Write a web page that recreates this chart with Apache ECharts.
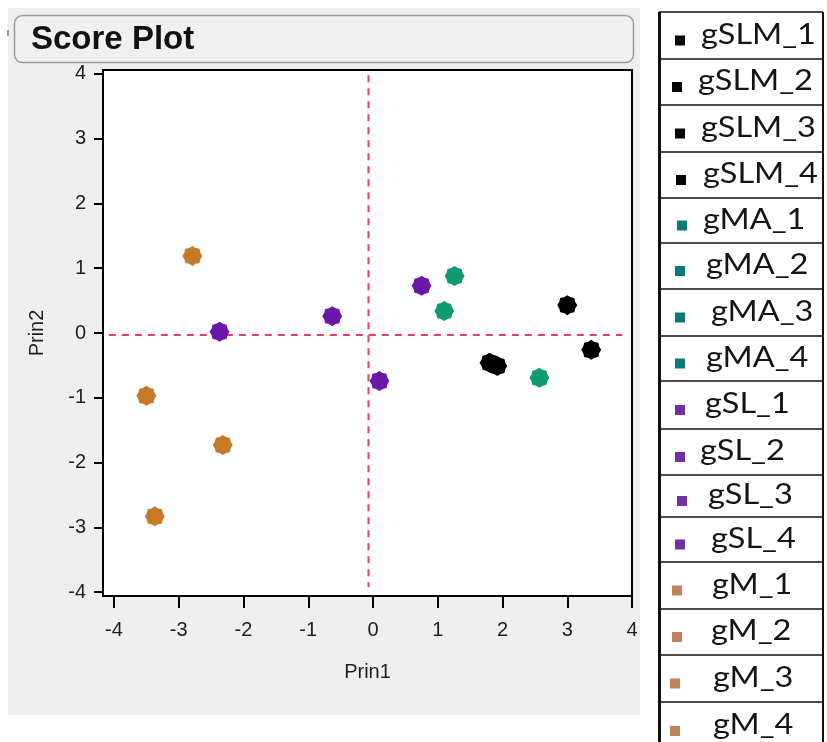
<!DOCTYPE html>
<html><head><meta charset="utf-8">
<style>html,body{margin:0;padding:0;background:#fff}#c{width:827px;height:742px}</style>
<script src="https://cdn.jsdelivr.net/npm/echarts@6/dist/echarts.min.js"></script>
</head><body><div id="c"></div><script>
// ---- data ----
const sampleNames = ['gSLM_1','gSLM_2','gSLM_3','gSLM_4','gMA_1','gMA_2','gMA_3','gMA_4','gSL_1','gSL_2','gSL_3','gSL_4','gM_1','gM_2','gM_3','gM_4'];
const sampleGroup = ['gSLM','gSLM','gSLM','gSLM','gMA','gMA','gMA','gMA','gSL','gSL','gSL','gSL','gM','gM','gM','gM'];
const groupNames = ['gSLM','gMA','gSL','gM'];
const gSLM = [[3.00,0.43],[3.37,-0.26],[1.80,-0.46],[1.92,-0.51]];
const gMA  = [[1.26,0.88],[1.10,0.34],[2.57,-0.69]];
const gSL  = [[-2.37,0.02],[-0.63,0.26],[0.75,0.73],[0.10,-0.74]];
const gM   = [[-2.79,1.19],[-3.50,-0.97],[-2.32,-1.73],[-3.37,-2.83]];
const tickValues = [-4,-3,-2,-1,0,1,2,3,4];
const refVertical = [[-0.07,3.98],[-0.07,-3.92]];
const refHorizontal = [[-4.08,-0.03],[3.85,-0.03]];
const titleText = 'Score Plot';
const xName = 'Prin1', yName = 'Prin2';

// ---- styles ----
const markerColor = {gSLM:'#000000', gMA:'#0f9a72', gSL:'#6a16a8', gM:'#c67a28'};
const legendColor = {gSLM:'#050505', gMA:'#0b7a77', gSL:'#7232a3', gM:'#c0825a'};
const groupData = {gSLM, gMA, gSL, gM};

// gear-like marker
let p = '';
for (let k = 0; k < 16; k++) {
  const a = k * Math.PI / 8;
  const r = (k % 2 === 0) ? 10 : 8.6;
  p += (k === 0 ? 'M' : 'L') + (r*Math.cos(a)).toFixed(3) + ' ' + (r*Math.sin(a)).toFixed(3) + ' ';
}
p += 'Z';
const gear = 'path://' + p;

const axisFont = {fontFamily:'Liberation Sans, Arial, sans-serif', fontSize:20, color:'#1e1e1e'};

const series = [
  {type:'line', data:refVertical, symbol:'none', silent:true, z:1,
   lineStyle:{color:'#f03a62', width:2, type:[7,6]}},
  {type:'line', data:refHorizontal, symbol:'none', silent:true, z:1,
   lineStyle:{color:'#f03a62', width:2, type:[7,6]}}
];
groupNames.forEach(g => {
  series.push({type:'scatter', name:g, data:groupData[g], symbol:gear, symbolSize:20, z:3,
    itemStyle:{color:markerColor[g], opacity:1}});
});

// ---- graphics: panel, title box, legend table ----
const graphics = [
  {type:'rect', z:-5, silent:true, shape:{x:8, y:8, width:632, height:707}, style:{fill:'#efefef'}},
  {type:'rect', z:-4, silent:true, shape:{x:7, y:30, width:2, height:6}, style:{fill:'#999'}},
  {type:'rect', z:-3, silent:true, shape:{x:14.5, y:15.5, width:619, height:47, r:8}, style:{fill:'#f0f0f0', stroke:'#9a9a9a', lineWidth:1.5}},
  {type:'text', z:-2, silent:true, x:31, y:40, style:{text:titleText, font:'bold 33px "Liberation Sans", Arial, sans-serif', fill:'#111', align:'left', verticalAlign:'middle'}}
];
const rowEdges = [12, 59, 105, 152, 198, 243, 289, 336, 381, 429, 475, 517, 562, 609, 655, 702, 750];
const textX = [701, 698, 701, 703, 703, 706, 711, 706, 705, 700, 708, 711, 712, 711, 713, 713];
const squareX = [675, 672, 675, 676, 677, 675, 675, 675, 675, 675, 677, 675, 672, 672, 670, 670];
const L = 659, R = 823;
graphics.push({type:'rect', silent:true, shape:{x:L-1, y:12, width:3, height:742-12}, style:{fill:'#111'}});
graphics.push({type:'rect', silent:true, shape:{x:R-1, y:12, width:2, height:742-12}, style:{fill:'#111'}});
for (let i = 0; i < rowEdges.length - 1; i++) {
  graphics.push({type:'rect', silent:true, shape:{x:L, y:rowEdges[i]-0.75, width:R-L, height:1.6}, style:{fill:'#111'}});
  const cy = (rowEdges[i] + rowEdges[i+1]) / 2;
  const g = sampleGroup[i];
  graphics.push({type:'rect', silent:true, shape:{x:squareX[i], y:cy, width:10, height:10}, style:{fill:legendColor[g]}});
  graphics.push({type:'text', silent:true, x:textX[i], y:cy-1, scaleX:1.16, style:{text:sampleNames[i], font:'28px Lato, "Open Sans", sans-serif', fill:'#141414', align:'left', verticalAlign:'middle'}});
}

const chart = echarts.init(document.getElementById('c'), null, {renderer:'canvas'});
chart.setOption({
  animation:false,
  backgroundColor:'#ffffff',
  grid:{left:103, right:195, top:70, bottom:146, show:true, backgroundColor:'#ffffff', borderColor:'#000', borderWidth:2, z:0},
  xAxis:{type:'value', min:-4.17, max:4, position:'bottom',
    axisLine:{show:true, onZero:false, lineStyle:{color:'#000', width:2}},
    axisTick:{show:true, length:12, customValues:tickValues, lineStyle:{color:'#000', width:2}},
    axisLabel:Object.assign({customValues:tickValues, margin:24}, axisFont),
    splitLine:{show:false},
    name:xName, nameLocation:'middle', nameGap:66, nameTextStyle:axisFont},
  yAxis:{type:'value', min:-4.06, max:4.06, position:'left',
    axisLine:{show:true, onZero:false, lineStyle:{color:'#000', width:2}},
    axisTick:{show:true, length:9, customValues:tickValues, lineStyle:{color:'#000', width:2}},
    axisLabel:Object.assign({customValues:tickValues, margin:17}, axisFont),
    splitLine:{show:false},
    name:yName, nameLocation:'middle', nameGap:56, nameRotate:90, nameTextStyle:axisFont},
  series:series,
  graphic:{elements:graphics}
});
</script></body></html>
